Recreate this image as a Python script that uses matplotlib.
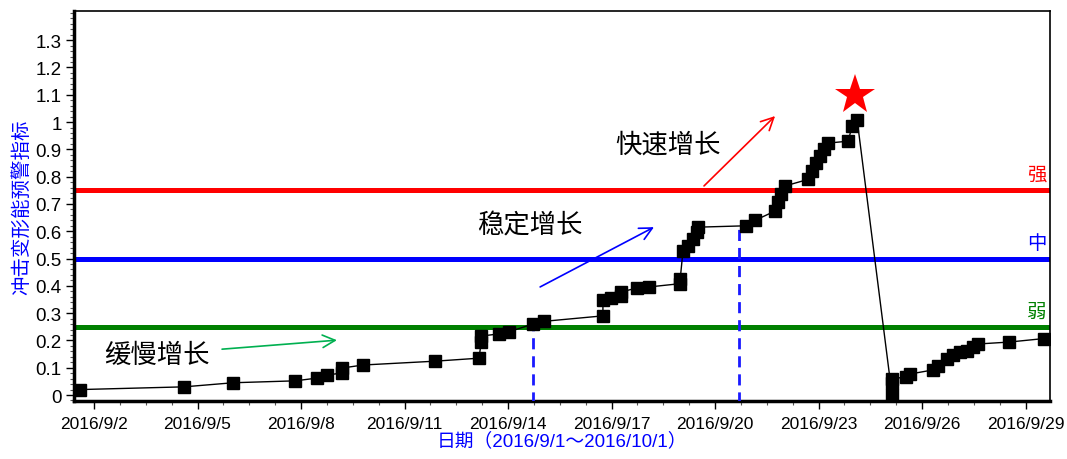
import numpy as np
import matplotlib
matplotlib.use("Agg")
import matplotlib.pyplot as plt
from matplotlib.ticker import FixedLocator, MultipleLocator

plt.rcParams['font.family'] = ['Liberation Sans', 'Noto Sans CJK SC', 'DejaVu Sans']
CJK = ['Noto Sans CJK SC', 'DejaVu Sans']

# day of September 2016 (fractional) and the warning index
days = [1.59, 4.61, 6.03, 7.83, 8.46, 8.75, 9.19, 9.19, 9.80, 11.88,
        13.16, 13.22, 13.22, 13.74, 14.03, 14.72, 15.04, 16.75, 16.75, 16.99,
        17.28, 17.28, 17.74, 18.09, 18.99, 18.99, 19.07, 19.22, 19.36, 19.48,
        19.51, 20.90, 21.16, 21.74, 21.83, 21.91, 22.03, 22.70, 22.81, 22.93,
        23.04, 23.16, 23.28, 23.86, 23.97, 24.12, 25.13, 25.13, 25.13, 25.54,
        25.65, 26.32, 26.46, 26.72, 26.90, 27.10, 27.30, 27.48, 27.62, 28.52,
        29.54]
index = [0.02, 0.03, 0.045, 0.052, 0.062, 0.073, 0.081, 0.099, 0.11, 0.124,
         0.135, 0.194, 0.216, 0.224, 0.232, 0.26, 0.27, 0.29, 0.348, 0.355,
         0.364, 0.378, 0.392, 0.396, 0.408, 0.425, 0.527, 0.546, 0.571, 0.597,
         0.615, 0.62, 0.64, 0.674, 0.707, 0.736, 0.766, 0.79, 0.82, 0.85,
         0.875, 0.90, 0.923, 0.93, 0.985, 1.007, 0.0, 0.045, 0.06, 0.066,
         0.077, 0.092, 0.106, 0.132, 0.147, 0.157, 0.161, 0.176, 0.187, 0.194,
         0.207]

levels = [0.75, 0.5, 0.25]
level_names = ['强', '中', '弱']
level_colors = ['#ff0000', '#0000ff', '#008000']

# stage boundaries (day, index at boundary)
split_days = [14.72, 20.70]
split_vals = [0.26, 0.62]

peak_day = 24.06
peak_val = 1.10

xtick_days = [2, 5, 8, 11, 14, 17, 20, 23, 26, 29]
xtick_labels = ['2016/9/2', '2016/9/5', '2016/9/8', '2016/9/11', '2016/9/14',
                '2016/9/17', '2016/9/20', '2016/9/23', '2016/9/26', '2016/9/29']
ytick_vals = [0, 0.1, 0.2, 0.3, 0.4, 0.5, 0.6, 0.7, 0.8, 0.9, 1.0, 1.1, 1.2, 1.3]
ytick_labels = ['0', '0.1', '0.2', '0.3', '0.4', '0.5', '0.6', '0.7', '0.8',
                '0.9', '1', '1.1', '1.2', '1.3']

fig = plt.figure(figsize=(10.67, 4.6), dpi=100)
ax = fig.add_axes([0.0694, 0.126, 0.9147, 0.848])

# threshold lines
for lv, name, col in zip(levels, level_names, level_colors):
    ax.axhline(lv, color=col, lw=3.6, zorder=2)
    ax.text(0.996, lv + 0.058, name, transform=ax.get_yaxis_transform(),
            ha='right', va='center', color=col, fontsize=14, family=CJK)

# dashed stage boundaries
ax.vlines(split_days, -0.03, split_vals, colors='#1a1aff', lw=2,
          linestyles=(0, (4, 2.5)), zorder=3)

ax.plot(days, index, color='black', lw=1, marker='s', ms=8,
        markerfacecolor='black', markeredgecolor='black', zorder=4)

ax.plot([peak_day], [peak_val], marker='*', color='#ff0000', ms=30,
        markeredgewidth=0, zorder=5)

# stage annotations
stages = [('缓慢增长', (3.83, 0.15), (5.71, 0.168), (9.04, 0.201), '#00b050'),
          ('稳定增长', (14.64, 0.623), (14.93, 0.396), (18.23, 0.615), '#0000ff'),
          ('快速增长', (18.64, 0.919), (19.68, 0.766), (21.74, 1.022), '#ff0000')]
for txt, pos, start, end, col in stages:
    ax.text(pos[0], pos[1], txt, ha='center', va='center', fontsize=19,
            color='black', family=CJK)
    ax.annotate('', xy=end, xytext=start,
                arrowprops=dict(arrowstyle='->,head_length=0.9,head_width=0.45',
                                color=col, lw=1.2, shrinkA=0, shrinkB=0))

ax.set_xlim(1.42, 29.71)
ax.set_ylim(-0.022, 1.407)

ax.xaxis.set_major_locator(FixedLocator(xtick_days))
ax.set_xticklabels(xtick_labels, fontsize=12.5)
ax.xaxis.set_minor_locator(FixedLocator(np.arange(1.25, 29.8, 0.75)))
ax.set_yticks(ytick_vals)
ax.set_yticklabels(ytick_labels, fontsize=13.5)
ax.yaxis.set_minor_locator(MultipleLocator(0.02))

ax.tick_params(which='major', direction='out', length=6, width=1, pad=3)
ax.tick_params(which='minor', direction='out', length=3, width=0.8,
               color='#555555')
ax.tick_params(axis='x', which='major', pad=5)

for side in ['left', 'bottom']:
    ax.spines[side].set_linewidth(2.5)
for side in ['top', 'right']:
    ax.spines[side].set_linewidth(1.2)

ax.set_ylabel('冲击变形能预警指标', color='#0000ff', fontsize=14, family=CJK,
              labelpad=2)
ax.set_xlabel('日期（2016/9/1～2016/10/1）', color='#0000ff', fontsize=13.5,
              labelpad=0)

fig.savefig('out.png', dpi=100)
